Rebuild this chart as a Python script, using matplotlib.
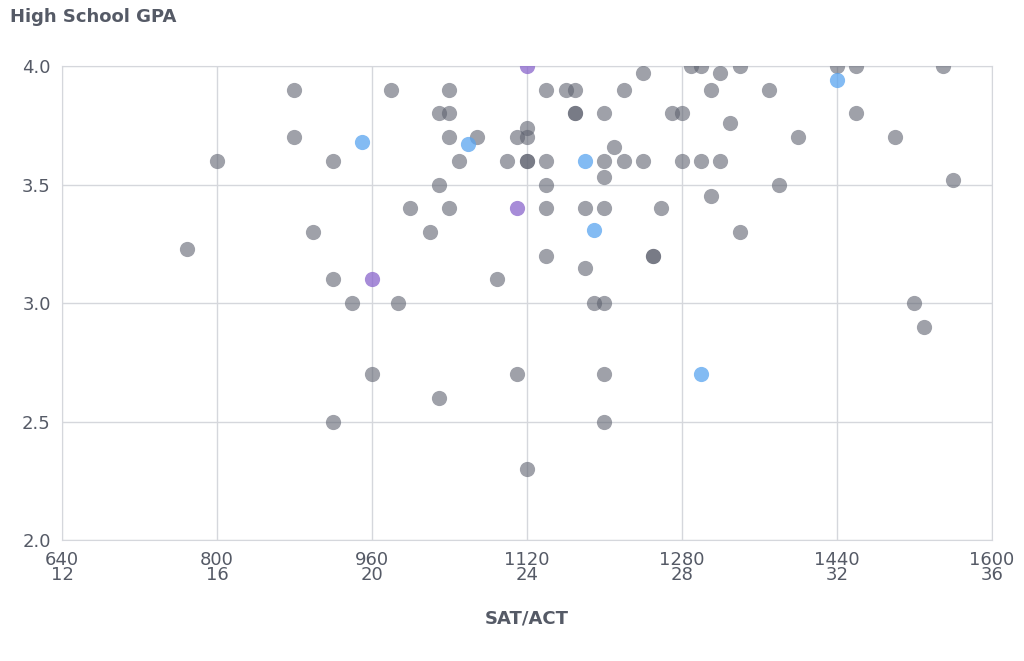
import matplotlib
matplotlib.use("Agg")
import matplotlib.pyplot as plt

gray_x = [769,800,880,880,899,920,920,920,939,960,980,987,999,1020,1029,1029,1029,1040,1040,1040,1040,1050,1069,1089,1099,1110,1110,1120,1120,1120,1120,1120,1140,1140,1140,1140,1140,1160,1170,1170,1170,1180,1180,1189,1200,1200,1200,1200,1200,1200,1200,1210,1220,1220,1240,1240,1250,1250,1259,1270,1280,1280,1289,1300,1300,1310,1310,1319,1319,1330,1340,1340,1370,1380,1400,1440,1460,1460,1500,1520,1530,1550,1560]
gray_y = [3.23,3.60,3.90,3.70,3.30,3.60,3.10,2.50,3.00,2.70,3.90,3.00,3.40,3.30,3.80,3.50,2.60,3.90,3.80,3.70,3.40,3.60,3.70,3.10,3.60,3.70,2.70,3.74,3.70,3.60,3.60,2.30,3.90,3.60,3.50,3.40,3.20,3.90,3.90,3.80,3.80,3.40,3.15,3.00,3.80,3.60,3.53,3.40,3.00,2.70,2.50,3.66,3.90,3.60,3.97,3.60,3.20,3.20,3.40,3.80,3.80,3.60,4.00,4.00,3.60,3.90,3.45,3.97,3.60,3.76,4.00,3.30,3.90,3.50,3.70,4.00,4.00,3.80,3.70,3.00,2.90,4.00,3.52]
blue_x = [950,1059,1180,1189,1300,1440]
blue_y = [3.68,3.67,3.60,3.31,2.70,3.94]
purple_x = [1120,1110,960]
purple_y = [4.00,3.40,3.10]

xticks = [640,800,960,1120,1280,1440,1600]
xticklabels = ["640\n12","800\n16","960\n20","1120\n24","1280\n28","1440\n32","1600\n36"]
yticks = [2.0,2.5,3.0,3.5,4.0]

fig = plt.figure(figsize=(10.24,6.61), dpi=100)
ax = fig.add_axes([0.0605,0.183,0.908,0.717])
s = 120
ax.scatter(gray_x, gray_y, s=s, color="#5f6370", alpha=0.6, linewidths=0, zorder=3)
ax.scatter(blue_x, blue_y, s=s, color="#5aa5f0", alpha=0.75, linewidths=0, zorder=3)
ax.scatter(purple_x, purple_y, s=s, color="#8a66cc", alpha=0.75, linewidths=0, zorder=3)
ax.set_xlim(640,1600); ax.set_ylim(2.0,4.0)
ax.set_xticks(xticks); ax.set_xticklabels(xticklabels, linespacing=0.8)
ax.set_yticks(yticks); ax.set_yticklabels([f"{v:.1f}" for v in yticks])
ax.grid(True, color="#d5d7dc", linewidth=1, zorder=0)
for sp in ax.spines.values():
    sp.set_color("#d5d7dc")
ax.tick_params(length=0, labelsize=13, colors="#555a66", pad=8)
ax.set_xlabel("SAT/ACT", fontsize=13, fontweight="bold", color="#555a66", labelpad=18)
fig.text(0.01, 0.975, "High School GPA", fontsize=13, fontweight="bold", color="#555a66", va="center")
fig.savefig("out.png", dpi=100)
